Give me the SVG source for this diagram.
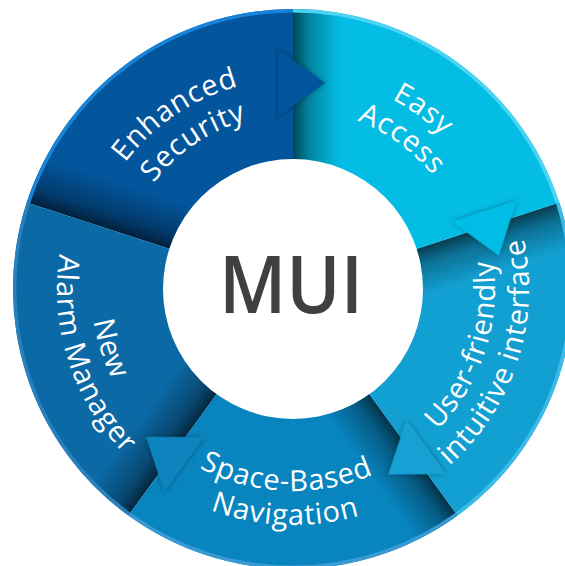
<svg xmlns="http://www.w3.org/2000/svg" xmlns:xlink="http://www.w3.org/1999/xlink" width="565" height="566" viewBox="0 0 565 566">
<style>
.lbl{font-family:"Open Sans","Noto Sans",sans-serif;font-size:29px;letter-spacing:0.8px;fill:#ffffff;}
.mui{font-family:"Open Sans","Noto Sans",sans-serif;font-size:80px;font-weight:600;fill:#404040;}
.rim{fill:none;stroke-width:3.5;}
</style>
<defs>
<linearGradient id="sh" gradientUnits="userSpaceOnUse" x1="293" y1="0" x2="340" y2="0">
<stop offset="0" stop-color="#000" stop-opacity="0.62"/>
<stop offset="0.35" stop-color="#000" stop-opacity="0.3"/>
<stop offset="1" stop-color="#000" stop-opacity="0"/>
</linearGradient>
<clipPath id="nextWedge"><path d="M293,289 L293,9 A280,280 0 0 1 559.30,202.47 Z"/></clipPath>
<filter id="ds" x="-30%" y="-30%" width="160%" height="160%">
<feDropShadow dx="0" dy="0" stdDeviation="2.5" flood-color="#000" flood-opacity="0.4"/>
</filter>
<path id="t210" d="M83,289 A210,210 0 0 1 503,289"/>
<path id="t175" d="M118,289 A175,175 0 0 1 468,289"/>
<path id="t214" d="M79,289 A214,214 0 0 1 507,289"/>
<path id="t180" d="M113,289 A180,180 0 0 1 473,289"/>
<path id="b202" d="M91,289 A202,202 0 0 0 495,289"/>
<path id="b236" d="M57,289 A236,236 0 0 0 529,289"/>
</defs>

<g id="ring">
<path id="seg-enhanced" d="M293,289 L26.70,202.47 A280,280 0 0 1 293,9 Z" fill="#03559c"/>
<path id="seg-easy" d="M293,289 L293,9 A280,280 0 0 1 559.30,202.47 Z" fill="#03bde5"/>
<path id="seg-user" d="M293,289 L559.30,202.47 A280,280 0 0 1 457.58,515.52 Z" fill="#12a0d3"/>
<path id="seg-space" d="M293,289 L457.58,515.52 A280,280 0 0 1 128.42,515.52 Z" fill="#0884be"/>
<path id="seg-alarm" d="M293,289 L128.42,515.52 A280,280 0 0 1 26.70,202.47 Z" fill="#0b69a5"/>
</g>

<g id="connectors">
<g transform="rotate(0 293 289)">
<rect x="293" y="9" width="50" height="280" fill="url(#sh)" clip-path="url(#nextWedge)"/>
<polygon points="278,49.2 325,83 278,116.8" fill="#03559c" filter="url(#ds)"/>
</g>
<g transform="rotate(72 293 289)">
<rect x="293" y="9" width="50" height="280" fill="url(#sh)" clip-path="url(#nextWedge)"/>
<polygon points="278,49.2 325,83 278,116.8" fill="#03bde5" filter="url(#ds)"/>
</g>
<g transform="rotate(144 293 289)">
<rect x="293" y="9" width="50" height="280" fill="url(#sh)" clip-path="url(#nextWedge)"/>
<polygon points="278,49.2 325,83 278,116.8" fill="#12a0d3" filter="url(#ds)"/>
</g>
<g transform="rotate(216 293 289)">
<rect x="293" y="9" width="50" height="280" fill="url(#sh)" clip-path="url(#nextWedge)"/>
<polygon points="278,49.2 325,83 278,116.8" fill="#0884be" filter="url(#ds)"/>
</g>
<g transform="rotate(288 293 289)">
<rect x="293" y="9" width="50" height="280" fill="url(#sh)" clip-path="url(#nextWedge)"/>
</g>
</g>

<g id="rims">
<path class="rim" d="M28.36,203.01 A278.25,278.25 0 0 1 293,10.75" stroke="#1784da"/>
<path class="rim" d="M293,10.75 A278.25,278.25 0 0 1 557.64,203.01" stroke="#4ed4f2"/>
<path class="rim" d="M557.64,203.01 A278.25,278.25 0 0 1 456.55,514.11" stroke="#3cbbe8"/>
<path class="rim" d="M456.55,514.11 A278.25,278.25 0 0 1 129.45,514.11" stroke="#3a9ad2"/>
<path class="rim" d="M129.45,514.11 A278.25,278.25 0 0 1 28.36,203.01" stroke="#2a7fbd"/>
</g>

<circle id="center-disc" cx="293" cy="289" r="130" fill="#ffffff"/>

<g id="node-enhanced" transform="rotate(-34 293 289)">
<text class="lbl"><textPath xlink:href="#t210" href="#t210" startOffset="50%" text-anchor="middle">Enhanced</textPath></text>
<text class="lbl"><textPath xlink:href="#t175" href="#t175" startOffset="50%" text-anchor="middle">Security</textPath></text>
</g>
<g id="node-easy" transform="rotate(36 293 289)">
<text class="lbl"><textPath xlink:href="#t214" href="#t214" startOffset="50%" text-anchor="middle">Easy</textPath></text>
<text class="lbl"><textPath xlink:href="#t180" href="#t180" startOffset="50%" text-anchor="middle">Access</textPath></text>
</g>
<g id="node-user" transform="rotate(-72 293 289)">
<text class="lbl"><textPath xlink:href="#b202" href="#b202" startOffset="50%" text-anchor="middle">User-friendly</textPath></text>
<text class="lbl"><textPath xlink:href="#b236" href="#b236" startOffset="50%" text-anchor="middle">intuitive interface</textPath></text>
</g>
<g id="node-space" transform="rotate(2 293 289)">
<text class="lbl"><textPath xlink:href="#b202" href="#b202" startOffset="50%" text-anchor="middle">Space-Based</textPath></text>
<text class="lbl"><textPath xlink:href="#b236" href="#b236" startOffset="50%" text-anchor="middle">Navigation</textPath></text>
</g>
<g id="node-alarm" transform="rotate(72 293 289)">
<text class="lbl"><textPath xlink:href="#b202" href="#b202" startOffset="50%" text-anchor="middle">New</textPath></text>
<text class="lbl"><textPath xlink:href="#b236" href="#b236" startOffset="50%" text-anchor="middle">Alarm Manager</textPath></text>
</g>

<g id="node-mui">
<text class="mui" x="291" y="313" text-anchor="middle" textLength="144" lengthAdjust="spacingAndGlyphs">MUI</text>
</g>
</svg>
